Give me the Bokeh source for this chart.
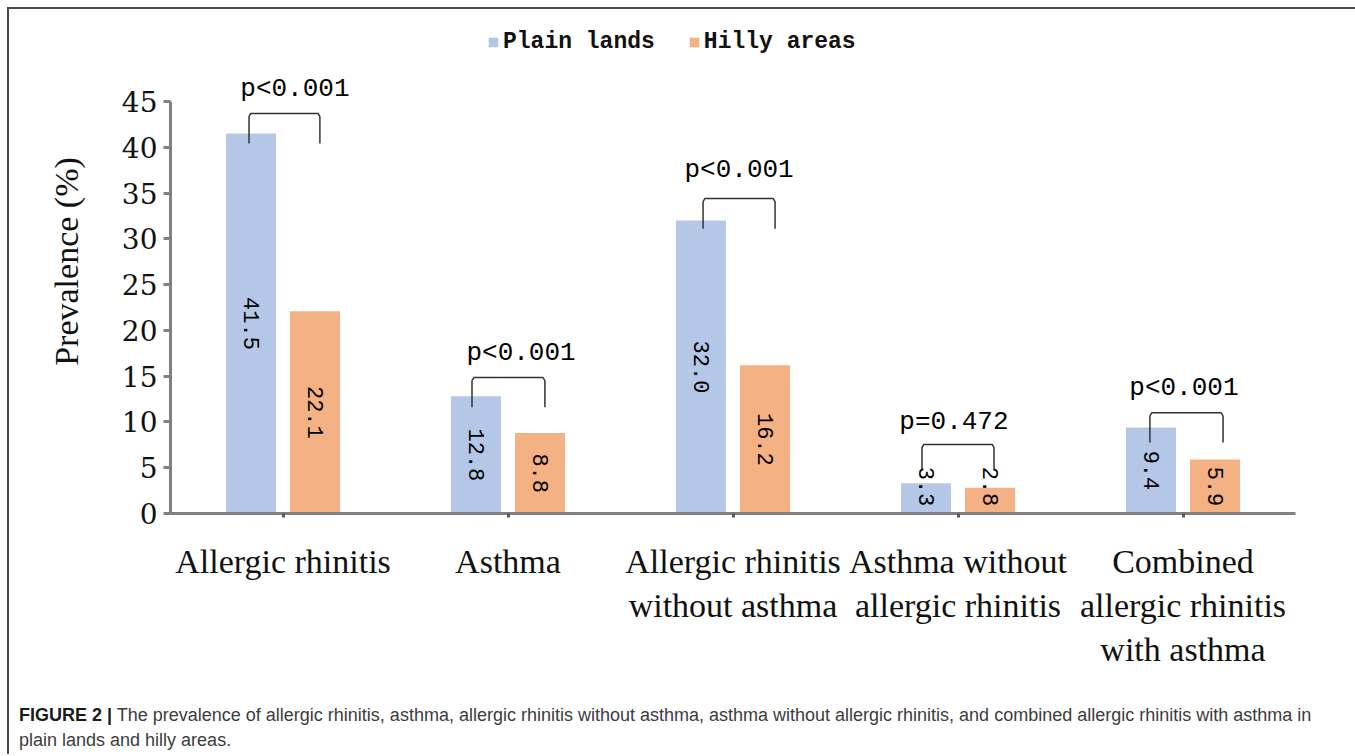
import math
from bokeh.plotting import figure
from bokeh.layouts import column
from bokeh.models import (FactorRange, Range1d, FixedTicker, Label, Legend,
                          LegendItem, ColumnDataSource, Div)
from bokeh.transform import dodge
from bokeh.core.properties import value
from bokeh.embed import file_html
from bokeh.resources import INLINE

# ---------------- data ----------------
categories = ["Allergic rhinitis", "Asthma", "Allergic rhinitis\nwithout asthma",
              "Asthma without\nallergic rhinitis", "Combined\nallergic rhinitis\nwith asthma"]
plain_lands = [41.5, 12.8, 32.0, 3.3, 9.4]
hilly_areas = [22.1, 8.8, 16.2, 2.8, 5.9]
p_texts = ["p<0.001", "p<0.001", "p<0.001", "p=0.472", "p<0.001"]
y_ticks = [0, 5, 10, 15, 20, 25, 30, 35, 40, 45]
series_names = ["Plain lands", "Hilly areas"]
caption_bold = "FIGURE 2 |"
caption_line1 = ("The prevalence of allergic rhinitis, asthma, allergic rhinitis without asthma, "
                 "asthma without allergic rhinitis, and combined allergic rhinitis with asthma in")
caption_line2 = "plain lands and hilly areas."

# significance brackets (annotation levels, in % units)
bracket_top = [43.7, 14.85, 34.4, 7.55, 11.0]
bracket_foot = [40.4, 11.6, 31.1, 4.7, 7.75]
bracket_left = [-0.151, -0.160, -0.133, -0.160, -0.147]
bracket_right = [0.164, 0.164, 0.187, 0.160, 0.178]
ptext_y = [46.4, 17.5, 37.5, 9.95, 13.75]
ptext_dx = [0.053, 0.058, 0.027, -0.018, 0.004]

BLUE = "#b4c7e7"
ORANGE = "#f4b183"
AXIS = "#808080"
MONO = "Liberation Mono"
SERIF = "Liberation Serif"

# ---------------- layout (pixels) ----------------
W = 1346
H = 681
ML = 161
FW = 1125
FH = 504            # frame from canvas top down to the x axis
AXIS_PX = 412       # height of 0..45 on the y axis
PX_PER_UNIT = AXIS_PX / 45
Y_TOP = FH / PX_PER_UNIT
CAP_H = 64

p = figure(x_range=FactorRange(factors=categories), y_range=Range1d(0, Y_TOP),
           width=W, height=H, output_backend="svg", toolbar_location=None,
           min_border_left=ML, min_border_right=W - ML - FW,
           min_border_top=0, min_border_bottom=H - FH)
p.outline_line_color = None
p.xgrid.grid_line_color = None
p.ygrid.grid_line_color = None

label_floor = 2.95
src = ColumnDataSource(dict(
    cat=categories,
    plain=plain_lands,
    hilly=hilly_areas,
    plain_mid=[max(v / 2, label_floor) for v in plain_lands],
    hilly_mid=[max(v / 2, label_floor) for v in hilly_areas],
    plain_txt=[f"{v:.1f}" for v in plain_lands],
    hilly_txt=[f"{v:.1f}" for v in hilly_areas],
))

off = 32 / 225
bw = 50 / 225
r1 = p.vbar(x=dodge("cat", -off, range=p.x_range), top="plain", width=bw, bottom=0,
            source=src, fill_color=BLUE, line_color=None)
r2 = p.vbar(x=dodge("cat", off, range=p.x_range), top="hilly", width=bw, bottom=0,
            source=src, fill_color=ORANGE, line_color=None)

for ycol, tcol, d in [("plain_mid", "plain_txt", -off), ("hilly_mid", "hilly_txt", off)]:
    p.text(x=dodge("cat", d, range=p.x_range), y=ycol, text=tcol, source=src,
           angle=-math.pi / 2, text_align="center", text_baseline="middle",
           text_font=value(MONO), text_font_size="22px", text_color="#000000")

# brackets
xs, ys = [], []
for i in range(len(categories)):
    c = i + 0.5
    xl, xr = c + bracket_left[i], c + bracket_right[i]
    t, f = bracket_top[i], bracket_foot[i]
    xs.append([xl, xl, xl + 0.008, xr - 0.008, xr, xr])
    ys.append([f, t - 0.35, t, t, t - 0.35, f])
p.multi_line(xs=xs, ys=ys, line_color="#333333", line_width=1.5)

for i in range(len(categories)):
    p.add_layout(Label(x=i + 0.5 + ptext_dx[i], y=ptext_y[i], text=p_texts[i],
                       text_align="center", text_baseline="middle",
                       text_font=MONO, text_font_size="26px", text_color="#000000"))

# axes
p.yaxis.ticker = FixedTicker(ticks=y_ticks)
p.yaxis.bounds = (0, 45)
p.yaxis.axis_label = "Prevalence (%)"
p.yaxis.axis_label_text_font = SERIF
p.yaxis.axis_label_text_font_size = "34px"
p.yaxis.axis_label_text_font_style = "normal"
p.yaxis.axis_label_text_color = "#111111"
p.yaxis.axis_label_standoff = 34
p.yaxis.major_label_text_font = "DejaVu Serif"
p.yaxis.major_label_text_font_size = "28px"
p.yaxis.major_label_text_color = "#111111"
p.yaxis.major_label_standoff = 6
p.yaxis.axis_line_color = AXIS
p.yaxis.axis_line_width = 3
p.yaxis.major_tick_line_color = AXIS
p.yaxis.major_tick_line_width = 3
p.yaxis.major_tick_out = 7
p.yaxis.major_tick_in = 0
p.yaxis.minor_tick_line_color = None

p.xaxis.major_label_text_font = SERIF
p.xaxis.major_label_text_font_size = "34px"
p.xaxis.major_label_text_color = "#111111"
p.xaxis.major_label_standoff = 25
p.xaxis.axis_line_color = AXIS
p.xaxis.axis_line_width = 3
p.xaxis.major_tick_line_color = "#595959"
p.xaxis.major_tick_line_width = 3
p.xaxis.major_tick_out = 4
p.xaxis.major_tick_in = 0
p.xaxis.minor_tick_line_color = None

# legend
legend = Legend(items=[LegendItem(label=series_names[0], renderers=[r1]),
                       LegendItem(label=series_names[1], renderers=[r2])],
                orientation="horizontal", location=(317, 458),
                glyph_width=12, glyph_height=12, label_standoff=4, spacing=33,
                padding=0, margin=0, border_line_color=None, background_fill_alpha=0,
                label_text_font=MONO, label_text_font_size="23px",
                label_text_font_style="bold", label_text_color="#111111")
p.add_layout(legend)

# caption
caption_html = (
    '<div style="font-family: \'Liberation Sans\', Arial, sans-serif; font-size: 18px; '
    'line-height: 25px; color: #3c3c3c; padding: 13px 0 0 10px; white-space: nowrap;">'
    f'<b style="color:#1a1a1a">{caption_bold}</b> {caption_line1}<br>{caption_line2}</div>'
)
cap = Div(text=caption_html, width=W, height=CAP_H, margin=0)

layout = column(p, cap, spacing=0,
                styles={"margin-left": "7px", "margin-top": "7px",
                        "border-top": "2px solid #4a4a4a",
                        "border-left": "2px solid #4a4a4a"})

open("out.html", "w").write(file_html(layout, INLINE))
